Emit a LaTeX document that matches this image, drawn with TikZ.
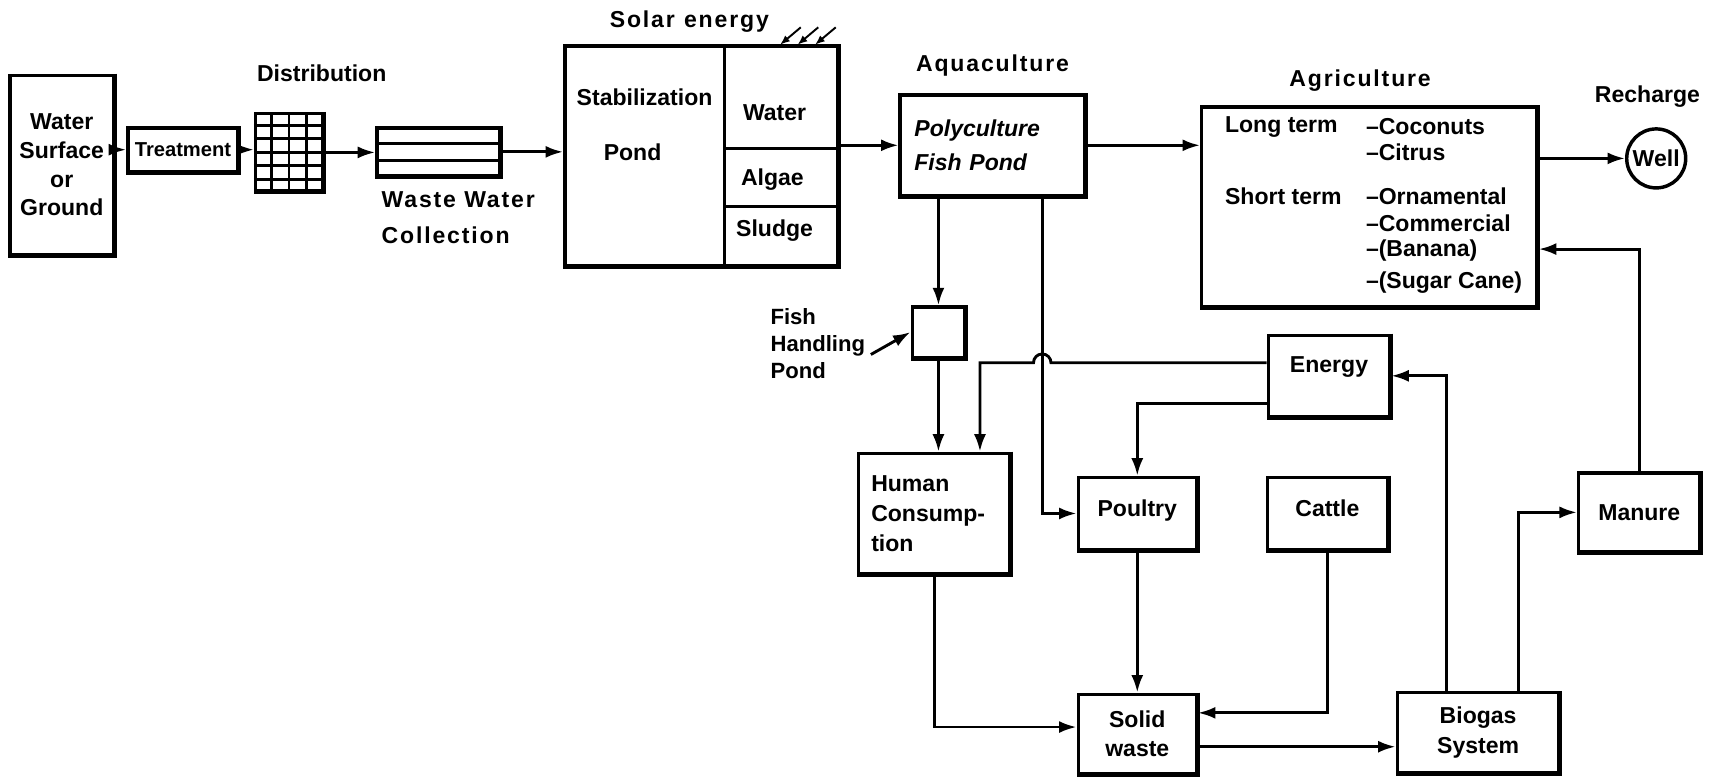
\documentclass[tikz,border=0pt]{standalone}
\usepackage{fontspec}
\setmainfont{Liberation Sans}
\newfontfamily\spacedfont[LetterSpace=8]{Liberation Sans}
\usetikzlibrary{arrows.meta,positioning,calc}

\begin{document}
\begin{tikzpicture}[
  font=\fontsize{12}{15}\selectfont\bfseries,
  box/.style={draw,line width=1.8pt,inner sep=2pt,
    append after command={\pgfextra{\let\hvnode=\tikzlastnode
      \draw[line width=1.6pt] (\hvnode.north east) -- (\hvnode.south east) -- (\hvnode.south west);}}},
  arr/.style={-{Latex[length=3.2mm,width=2.2mm]},line width=1.5pt},
  txt/.style={inner sep=0pt},
  tag/.style={inner sep=0pt,font=\fontsize{12}{15}\selectfont\spacedfont\bfseries}
]
  \useasboundingbox (0,0) rectangle (31.36,-14.26);

  % treatment and distribution chain
  \node[box,minimum width=1.9cm,minimum height=3.28cm,align=center] (water) at (1.13,-3.02) {Water\\Surface\\or\\Ground};
  \node[box,minimum width=2.02cm,minimum height=0.8cm,font=\fontsize{10.5}{12}\selectfont\bfseries] (treat) at (3.35,-2.74) {Treatment};
  \node[box,minimum width=1.22cm,minimum height=1.42cm] (grid) at (5.29,-2.79) {};
  \foreach \i in {1,2,3}
    \draw[line width=1.5pt] ($(grid.south west)!\i/4!(grid.south east)$) -- ($(grid.north west)!\i/4!(grid.north east)$);
  \foreach \j in {1,...,5}
    \draw[line width=1.5pt] ($(grid.south west)!\j/6!(grid.north west)$) -- ($(grid.south east)!\j/6!(grid.north east)$);
  \node[txt,above=0.55cm of grid,xshift=0.6cm] (distLbl) {Distribution};
  \node[box,minimum width=2.24cm,minimum height=0.88cm] (pipe) at (8.02,-2.78) {};
  \foreach \j in {1,2}
    \draw[line width=1.4pt] ($(pipe.south west)!\j/3!(pipe.north west)$) -- ($(pipe.south east)!\j/3!(pipe.north east)$);
  \node[tag,anchor=north west,align=left] (pipeLbl) at (6.98,-3.5) {Waste Water\\[4pt]Collection};

  % stabilization pond
  \node[box,minimum width=5.0cm,minimum height=4.02cm] (stab) at (12.84,-2.85) {};
  \coordinate (stabDiv) at ($(stab.north west)!0.584!(stab.north east)$);
  \draw[line width=1.6pt] (stabDiv) -- (stabDiv |- stab.south);
  \draw[line width=1.6pt] (stabDiv |- 0,-2.72) -- (stab.east |- 0,-2.72);
  \draw[line width=1.6pt] (stabDiv |- 0,-3.78) -- (stab.east |- 0,-3.78);
  \node[txt] (stabTop) at (11.8,-1.78) {Stabilization};
  \node[txt] (stabPond) at (11.58,-2.78) {Pond};
  \node[txt] (stabWater) at (14.18,-2.06) {Water};
  \node[txt] (stabAlgae) at (14.14,-3.28) {Algae};
  \node[txt] (stabSludge) at (14.18,-4.22) {Sludge};
  \node[tag,above=0.2cm of stab,xshift=-0.22cm] (solarLbl) {Solar\hspace{0.4em}energy};
  \foreach \x in {14.66,14.98,15.3}
    \draw[-{Latex[length=1.8mm,width=1.4mm]},line width=1pt] (\x,-0.5) -- ++(-0.38,-0.32);

  % aquaculture and agriculture
  \node[box,minimum height=1.84cm,text width=2.86cm,inner xsep=0.26cm,align=left,font=\fontsize{12}{15}\selectfont\bfseries\itshape] (aqua) at (18.17,-2.66) {Polyculture\\[3pt]Fish Pond};
  \node[tag,above=0.3cm of aqua] (aquaLbl) {Aquaculture};
  \node[box,minimum width=6.14cm,minimum height=3.66cm] (agri) at (25.07,-3.79) {};
  \node[tag,above=0.25cm of agri,xshift=-0.17cm] (agriLbl) {Agriculture};
  \node[txt,anchor=west] (agLong) at (22.42,-2.32) {Long term};
  \node[txt,anchor=west] (agShort) at (22.42,-3.6) {Short term};
  \node[txt,anchor=west] (agCoco) at (25.0,-2.32) {--Coconuts};
  \node[txt,anchor=west] (agCitrus) at (25.0,-2.78) {--Citrus};
  \node[txt,anchor=west] (agOrna) at (25.0,-3.6) {--Ornamental};
  \node[txt,anchor=west] (agComm) at (25.0,-4.08) {--Commercial};
  \node[txt,anchor=west] (agBanana) at (25.0,-4.58) {--(Banana)};
  \node[txt,anchor=west] (agCane) at (25.0,-5.18) {--(Sugar Cane)};
  \node[draw,circle,line width=1.8pt,minimum size=1.08cm,inner sep=0pt] (well) at (30.32,-2.9) {Well};
  \node[txt,above=0.35cm of well,xshift=-0.16cm] (wellLbl) {Recharge};

  % farm units
  \node[box,minimum width=0.96cm,minimum height=0.92cm] (fhp) at (17.18,-6.08) {};
  \node[txt,anchor=west,align=left,font=\fontsize{11.5}{14}\selectfont\bfseries] (fhpLbl) at (14.1,-6.29) {Fish\\Handling\\Pond};
  \node[box,minimum height=2.2cm,text width=2.3cm,inner xsep=0.23cm,align=left,font=\fontsize{12}{15.6}\selectfont\bfseries] (hum) at (17.1,-9.4) {Human\\Consump-\\tion};
  \node[box,minimum width=2.22cm,minimum height=1.48cm,text depth=0.4cm] (energy) at (24.33,-6.88) {Energy};
  \node[box,minimum width=2.16cm,minimum height=1.32cm,text depth=0.2cm] (poultry) at (20.82,-9.4) {Poultry};
  \node[box,minimum width=2.2cm,minimum height=1.32cm,text depth=0.2cm] (cattle) at (24.3,-9.4) {Cattle};
  \node[box,minimum width=2.22cm,minimum height=1.44cm] (manure) at (30.01,-9.38) {Manure};
  \node[box,minimum width=2.16cm,minimum height=1.46cm,align=center] (solid) at (20.82,-13.44) {Solid\\waste};
  \node[box,minimum width=2.96cm,minimum height=1.46cm,align=center] (biogas) at (27.06,-13.41) {Biogas\\[1pt]System};

  % ports
  \coordinate (aquaDrop) at ([xshift=0.91cm]aqua.south);
  \coordinate (enTop) at ([yshift=0.24cm]energy.west);
  \coordinate (enLow) at ([yshift=-0.5cm]energy.west);
  \coordinate (swOut) at ([yshift=-0.23cm]solid.east);
  \coordinate (bgUp) at ([xshift=-0.58cm]biogas.north);
  \coordinate (bgMan) at ([xshift=0.74cm]biogas.north);

  % flows
  \draw[arr] (water.east |- treat) -- (treat.west);
  \draw[arr] (treat.east) -- (treat.east -| grid.west);
  \draw[arr] (grid.east) -- (grid.east -| pipe.west);
  \draw[arr] (pipe.east) -- (pipe.east -| stab.west);
  \draw[arr] (stab.east |- aqua.west) -- (aqua.west);
  \draw[arr] (aqua.east) -- (aqua.east -| agri.west);
  \draw[arr] (agri.east |- well.west) -- (well.west);
  \draw[arr] (aqua.south -| fhp.north) -- (fhp.north);
  \draw[arr] ([shift={(0.1,-0.2)}]fhpLbl.east) -- (fhp.west);
  \draw[arr] (fhp.south) -- (fhp.south |- hum.north);
  \draw[arr] (aquaDrop) |- (poultry.west);
  \draw[arr] (enTop) -- ($(aquaDrop |- enTop)+(0.16,0)$) arc[start angle=0,end angle=180,radius=0.16cm] -| ([xshift=0.84cm]hum.north);
  \draw[arr] (enLow) -| (poultry.north);
  \draw[arr] (hum.south) |- ([yshift=0.13cm]solid.west);
  \draw[arr] (poultry.south) -- (solid.north);
  \draw[arr] (cattle.south) |- ([yshift=0.39cm]solid.east);
  \draw[arr] (swOut) -- (swOut -| biogas.west);
  \draw[arr] (bgUp) |- (energy.east);
  \draw[arr] (bgMan) |- (manure.west);
  \draw[arr] (manure.north) |- ([yshift=-0.77cm]agri.east);
\end{tikzpicture}
\end{document}
